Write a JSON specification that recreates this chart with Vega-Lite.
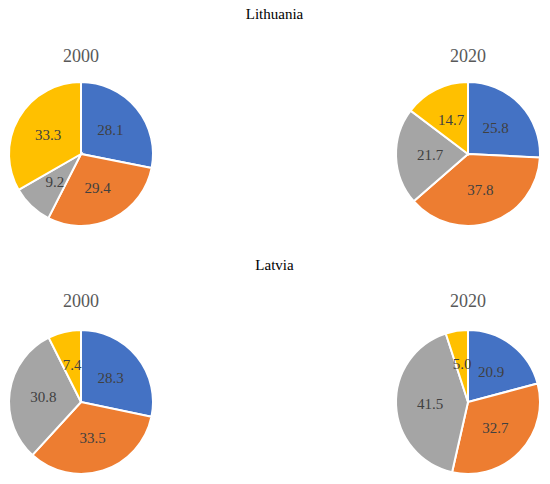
{
  "$schema": "https://vega.github.io/schema/vega-lite/v6.json",
  "padding": {"left": 5, "top": 7, "right": 6, "bottom": 4},
  "background": "white",
  "data": {
    "values": [
      {"country": "Lithuania", "year": "2000", "group": "A", "idx": 1, "share": 28.1},
      {"country": "Lithuania", "year": "2000", "group": "B", "idx": 2, "share": 29.4},
      {"country": "Lithuania", "year": "2000", "group": "C", "idx": 3, "share": 9.2},
      {"country": "Lithuania", "year": "2000", "group": "D", "idx": 4, "share": 33.3},
      {"country": "Lithuania", "year": "2020", "group": "A", "idx": 1, "share": 25.8},
      {"country": "Lithuania", "year": "2020", "group": "B", "idx": 2, "share": 37.8},
      {"country": "Lithuania", "year": "2020", "group": "C", "idx": 3, "share": 21.7},
      {"country": "Lithuania", "year": "2020", "group": "D", "idx": 4, "share": 14.7},
      {"country": "Latvia", "year": "2000", "group": "A", "idx": 1, "share": 28.3},
      {"country": "Latvia", "year": "2000", "group": "B", "idx": 2, "share": 33.5},
      {"country": "Latvia", "year": "2000", "group": "C", "idx": 3, "share": 30.8},
      {"country": "Latvia", "year": "2000", "group": "D", "idx": 4, "share": 7.4},
      {"country": "Latvia", "year": "2020", "group": "A", "idx": 1, "share": 20.9},
      {"country": "Latvia", "year": "2020", "group": "B", "idx": 2, "share": 32.7},
      {"country": "Latvia", "year": "2020", "group": "C", "idx": 3, "share": 41.5},
      {"country": "Latvia", "year": "2020", "group": "D", "idx": 4, "share": 5.0}
    ]
  },
  "spacing": 28,
  "vconcat": [
    {
      "title": {"text": "Lithuania", "anchor": "middle", "fontSize": 15, "color": "#000000", "offset": 26},
      "spacing": 235,
      "hconcat": [
        {
          "title": {"text": "2000", "offset": 12},
          "width": 144, "height": 144,
          "transform": [{"filter": "datum.country === 'Lithuania' && datum.year === '2000'"}],
          "encoding": {
            "theta": {"field": "share", "type": "quantitative", "stack": true},
            "order": {"field": "idx", "type": "quantitative"}
          },
          "layer": [
            {"mark": {"type": "arc", "outerRadius": 72, "stroke": "white", "strokeWidth": 2},
             "encoding": {"color": {"field": "group", "type": "nominal", "legend": null,
               "scale": {"domain": ["A", "B", "C", "D"], "range": ["#4472C4", "#ED7D31", "#A5A5A5", "#FFC000"]}}}},
            {"mark": {"type": "text", "radius": 38, "fontSize": 15, "fill": "#404040", "font": "Liberation Serif"},
             "encoding": {"text": {"field": "share", "type": "quantitative", "format": ".1f"}, "detail": {"field": "group"}}}
          ]
        },
        {
          "title": {"text": "2020", "offset": 12},
          "width": 144, "height": 144,
          "transform": [{"filter": "datum.country === 'Lithuania' && datum.year === '2020'"}],
          "encoding": {
            "theta": {"field": "share", "type": "quantitative", "stack": true},
            "order": {"field": "idx", "type": "quantitative"}
          },
          "layer": [
            {"mark": {"type": "arc", "outerRadius": 72, "stroke": "white", "strokeWidth": 2},
             "encoding": {"color": {"field": "group", "type": "nominal", "legend": null,
               "scale": {"domain": ["A", "B", "C", "D"], "range": ["#4472C4", "#ED7D31", "#A5A5A5", "#FFC000"]}}}},
            {"mark": {"type": "text", "radius": 38, "fontSize": 15, "fill": "#404040", "font": "Liberation Serif"},
             "encoding": {"text": {"field": "share", "type": "quantitative", "format": ".1f"}, "detail": {"field": "group"}}}
          ]
        }
      ]
    },
    {
      "title": {"text": "Latvia", "anchor": "middle", "fontSize": 15, "color": "#000000", "offset": 20},
      "spacing": 235,
      "hconcat": [
        {
          "title": {"text": "2000", "offset": 15},
          "width": 144, "height": 144,
          "transform": [{"filter": "datum.country === 'Latvia' && datum.year === '2000'"}],
          "encoding": {
            "theta": {"field": "share", "type": "quantitative", "stack": true},
            "order": {"field": "idx", "type": "quantitative"}
          },
          "layer": [
            {"mark": {"type": "arc", "outerRadius": 72, "stroke": "white", "strokeWidth": 2},
             "encoding": {"color": {"field": "group", "type": "nominal", "legend": null,
               "scale": {"domain": ["A", "B", "C", "D"], "range": ["#4472C4", "#ED7D31", "#A5A5A5", "#FFC000"]}}}},
            {"mark": {"type": "text", "radius": 38, "fontSize": 15, "fill": "#404040", "font": "Liberation Serif"},
             "encoding": {"text": {"field": "share", "type": "quantitative", "format": ".1f"}, "detail": {"field": "group"}}}
          ]
        },
        {
          "title": {"text": "2020", "offset": 15},
          "width": 144, "height": 144,
          "transform": [{"filter": "datum.country === 'Latvia' && datum.year === '2020'"}],
          "encoding": {
            "theta": {"field": "share", "type": "quantitative", "stack": true},
            "order": {"field": "idx", "type": "quantitative"}
          },
          "layer": [
            {"mark": {"type": "arc", "outerRadius": 72, "stroke": "white", "strokeWidth": 2},
             "encoding": {"color": {"field": "group", "type": "nominal", "legend": null,
               "scale": {"domain": ["A", "B", "C", "D"], "range": ["#4472C4", "#ED7D31", "#A5A5A5", "#FFC000"]}}}},
            {"mark": {"type": "text", "radius": 38, "fontSize": 15, "fill": "#404040", "font": "Liberation Serif"},
             "encoding": {"text": {"field": "share", "type": "quantitative", "format": ".1f"}, "detail": {"field": "group"}}}
          ]
        }
      ]
    }
  ],
  "config": {
    "view": {"stroke": null},
    "title": {"font": "Liberation Serif", "fontWeight": "normal", "fontSize": 18, "color": "#595959", "offset": 18}
  }
}
